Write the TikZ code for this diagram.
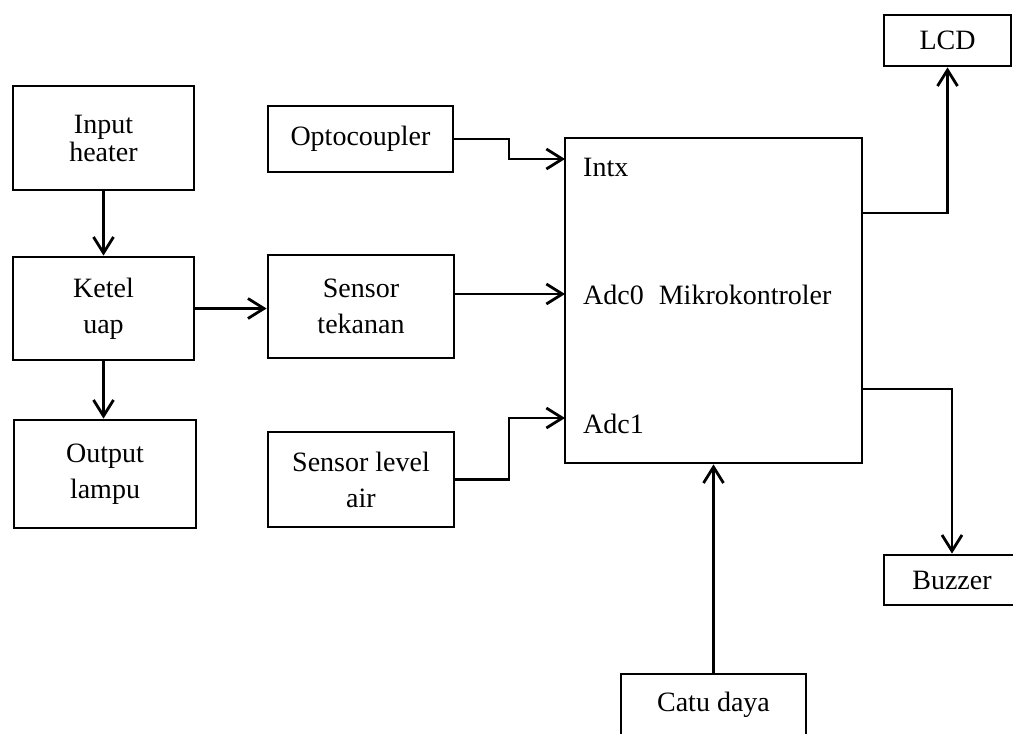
\documentclass[tikz,border=0pt]{standalone}
\usepackage{fontspec}
\setmainfont{Liberation Serif}
\usetikzlibrary{arrows.meta}
\begin{document}
\begin{tikzpicture}[x=1pt,y=-1pt,
  box/.style={draw, line width=2.8pt, align=center, inner sep=0pt,
    font=\fontsize{28}{36}\selectfont},
  lbl/.style={anchor=base west, inner sep=0pt, font=\fontsize{28}{34}\selectfont},
  conn/.style={line width=2.8pt},
  arr/.style={conn, -{Straight Barb[length=16pt,width=20pt]}}
]
\useasboundingbox (0,0) rectangle (1013,734);
\clip (0,0) rectangle (1013,734);

% left column
\node[box, minimum width=181, minimum height=104,
  font=\fontsize{28}{28}\selectfont] (inp) at (103.5,138) {Input\\heater};
\node[box, minimum width=181, minimum height=103] (ketel) at (103.5,308.5) {Ketel\\uap};
\node[box, minimum width=182, minimum height=108] (outp) at (105,474) {Output\\lampu};

% sensors
\node[box, minimum width=185, minimum height=66] (opto) at (360.5,139) {Optocoupler};
\node[box, minimum width=186, minimum height=103] (sten) at (361,306.5) {Sensor\\tekanan};
\node[box, minimum width=186, minimum height=95] (slev) at (361,479.5) {Sensor level\\air};

% microcontroller
\node[box, minimum width=297, minimum height=325] (mikro) at (713.5,300.5) {};
\node[lbl] (intx) at (583,176) {Intx};
\node[lbl] (adc0) at (583,304) {Adc0\hspace{8pt} Mikrokontroler};
\node[lbl] (adc1) at (583,433) {Adc1};

% outputs
\node[box, minimum width=127, minimum height=51] (lcd) at (947.5,40.5) {LCD};
\node[box, minimum width=136, minimum height=50] (buzz) at (952,580) {Buzzer};
\node[box, minimum width=185, minimum height=62] (catu) at (713.5,705) {Catu daya};

% coordinates
\coordinate (bendx) at (509,0);
\coordinate (pIntx) at (565,159);
\coordinate (pAdc0) at (565,294);
\coordinate (pAdc1) at (565,418);
\coordinate (pLcd) at (862,213);
\coordinate (pBuz) at (862,389);

% connectors
\draw[arr] (inp.south) -- (ketel.north);
\draw[arr] (ketel.south) -- (ketel.south |- outp.north);
\draw[arr] (ketel.east) -- (ketel.east -| sten.west);
\draw[arr] (opto.east) -- (opto.east -| bendx) |- (pIntx);
\draw[arr] (sten.east |- pAdc0) -- (pAdc0);
\draw[arr] (slev.east) -- (slev.east -| bendx) |- (pAdc1);
\draw[arr] (pLcd) -| (lcd.south);
\draw[arr] (pBuz) -| (buzz.north);
\draw[arr] (catu.north) -- (catu.north |- mikro.south);
\end{tikzpicture}
\end{document}
